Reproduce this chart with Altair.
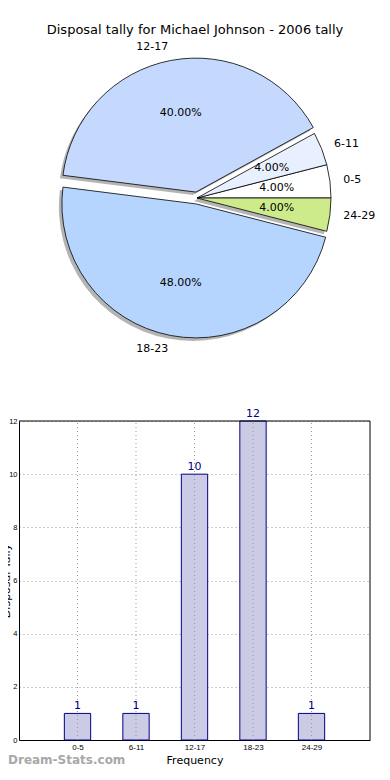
import json
import altair as alt
import pandas as pd

# ---- data ----
categories = ["0-5", "6-11", "12-17", "18-23", "24-29"]
counts = [1, 1, 10, 12, 1]
percent_labels = ["4.00%", "4.00%", "40.00%", "48.00%", "4.00%"]
y_ticks = [0, 2, 4, 6, 8, 10, 12]

title_text = "Disposal tally for Michael Johnson - 2006 tally"
x_title = "Frequency"
y_title = "Disposal Tally"
watermark = "Dream-Stats.com"

# ---- styles ----
slice_colors = ["#ffffff", "#e8f0ff", "#c5d9ff", "#b5d5ff", "#cdeb8b"]
slice_explode = [0, 0, 6, 6, 0]
R = 134
CX, CY = 178, 190
FONT = "DejaVu Sans"
TICK_FONT = "Liberation Sans"

df = pd.DataFrame({
    "cat": categories,
    "count": counts,
    "idx": list(range(len(categories))),
    "pct": percent_labels,
    "color": slice_colors,
    "explode": slice_explode,
})

# ---------------- pie ----------------
pie = (
    alt.Chart(df)
    .transform_window(cum="sum(count)", sort=[alt.SortField("idx", order="descending")], frame=[None, 0])
    .transform_joinaggregate(total="sum(count)")
    .transform_calculate(t2="PI/2 + 2*PI*datum.cum/datum.total")
    .transform_calculate(t1="datum.t2 - 2*PI*datum.count/datum.total")
    .transform_calculate(mid="(datum.t1 + datum.t2)/2")
    .transform_calculate(ex=f"{CX} + datum.explode*sin(datum.mid)")
    .transform_calculate(ey=f"{CY} - datum.explode*cos(datum.mid)")
    .transform_calculate(sx="datum.ex - 3")
    .transform_calculate(sy="datum.ey + 3")
    .transform_calculate(px=f"datum.ex + {0.6*R}*sin(datum.mid)")
    .transform_calculate(py=f"datum.ey - {0.6*R}*cos(datum.mid)")
    .transform_calculate(lx=f"datum.ex + {1.1*R}*sin(datum.mid)")
    .transform_calculate(ly=f"datum.ey - {1.1*R}*cos(datum.mid)")
)

ang = dict(theta=alt.Theta("t1:Q", scale=None), theta2=alt.Theta2("t2:Q"))

shadow = pie.mark_arc(radius=R, fill="#777777", opacity=0.55).encode(
    x=alt.X("sx:Q", scale=None, axis=None), y=alt.Y("sy:Q", scale=None, axis=None), **ang
)
wedges = pie.mark_arc(radius=R, stroke="black", strokeWidth=0.8).encode(
    x=alt.X("ex:Q", scale=None, axis=None), y=alt.Y("ey:Q", scale=None, axis=None),
    fill=alt.Fill("color:N", scale=None), **ang
)
pct_text = pie.mark_text(fontSize=11, font=FONT, color="black").encode(
    x=alt.X("px:Q", scale=None, axis=None), y=alt.Y("py:Q", scale=None, axis=None), text="pct:N"
)
lab_right = pie.transform_filter("sin(datum.mid) >= 0").mark_text(
    fontSize=11, font=FONT, align="left", baseline="middle", color="black"
).encode(x=alt.X("lx:Q", scale=None, axis=None), y=alt.Y("ly:Q", scale=None, axis=None), text="cat:N")
lab_left = pie.transform_filter("sin(datum.mid) < 0").mark_text(
    fontSize=11, font=FONT, align="right", baseline="middle", color="black"
).encode(x=alt.X("lx:Q", scale=None, axis=None), y=alt.Y("ly:Q", scale=None, axis=None), text="cat:N")

title_df = pd.DataFrame({"t": [title_text]})
title = alt.Chart(title_df).mark_text(fontSize=13, font=FONT, color="black").encode(
    x=alt.value(176), y=alt.value(22), text="t:N"
)
wm_df = pd.DataFrame({"t": [watermark]})
wm = alt.Chart(wm_df).mark_text(
    fontSize=12, font=FONT, fontWeight="bold", color="#a8a8a8", align="left", baseline="middle"
).encode(x=alt.value(-11), y=alt.value(752), text="t:N")

pie_group = alt.layer(shadow, wedges, pct_text, lab_right, lab_left, title, wm)

# ---------------- bars ----------------
bar_base = alt.Chart(df).transform_calculate(
    xc="datum.idx + 1", xl="datum.idx + 1 - 0.225", xr="datum.idx + 1 + 0.225"
)
xscale = alt.Scale(domain=[0, 6], nice=False, zero=False)
yscale = alt.Scale(domain=[0, 12], range=[732, 413], nice=False)

label_expr = json.dumps(categories) + "[datum.value - 1]"

bars = bar_base.mark_bar(fill="#cbcbe6", stroke="#000080", strokeWidth=1).encode(
    x=alt.X(
        "xl:Q", scale=xscale,
        axis=alt.Axis(
            orient="bottom", offset=0,
            values=[1, 2, 3, 4, 5], labelExpr=label_expr, title=x_title, grid=False,
            ticks=False, tickSize=0, labelFontSize=8, labelPadding=3, titleFontSize=11,
            titlePadding=3, domain=True, domainColor="black", domainWidth=1,
            labelColor="black", titleColor="black",
            titleFontWeight="normal", labelFont=TICK_FONT, titleFont=FONT,
        ),
    ),
    x2="xr:Q",
    y=alt.Y(
        "count:Q", scale=yscale,
        axis=alt.Axis(
            orient="left", offset=0, format="d",
            values=y_ticks, title=y_title, grid=True, gridDash=[1, 3], gridColor="#999999",
            ticks=False, tickSize=0, labelFontSize=7.5, labelPadding=2, titleFontSize=11,
            titleX=-8, titleBaseline="bottom", titleFontWeight="normal",
            domain=True, domainColor="black", domainWidth=1,
            labelColor="black", titleColor="black",
            labelFont=TICK_FONT, titleFont=FONT,
        ),
    ),
    y2=alt.datum(0),
)
vgrid = bar_base.mark_rule(strokeDash=[1, 3], color="#999999").encode(
    x="xc:Q", y=alt.datum(0), y2=alt.datum(12)
)
bar_text = bar_base.mark_text(dy=-7, color="#000080", fontSize=11, font=FONT).encode(
    x="xc:Q", y="count:Q", text="count:Q"
)
frame_df = pd.DataFrame({"k": [0]})
top_rule = alt.Chart(frame_df).mark_rule(color="black").encode(
    x=alt.datum(0), x2=alt.datum(6), y=alt.datum(12)
)
right_rule = alt.Chart(frame_df).mark_rule(color="black").encode(
    x=alt.datum(6), y=alt.datum(0), y2=alt.datum(12)
)

bar_group = alt.layer(bars, vgrid, bar_text, top_rule, right_rule)

chart = (
    alt.layer(pie_group, bar_group)
    .resolve_scale(x="independent", y="independent")
    .properties(
        width=351, height=732,
        autosize=alt.AutoSizeParams(type="none"),
        padding={"left": 11, "top": 0, "right": 12, "bottom": 28},
    )
    .configure(font=FONT)
    .configure_view(stroke=None)
)

chart.save("out.html", embed_options={"renderer": "svg", "actions": False})
